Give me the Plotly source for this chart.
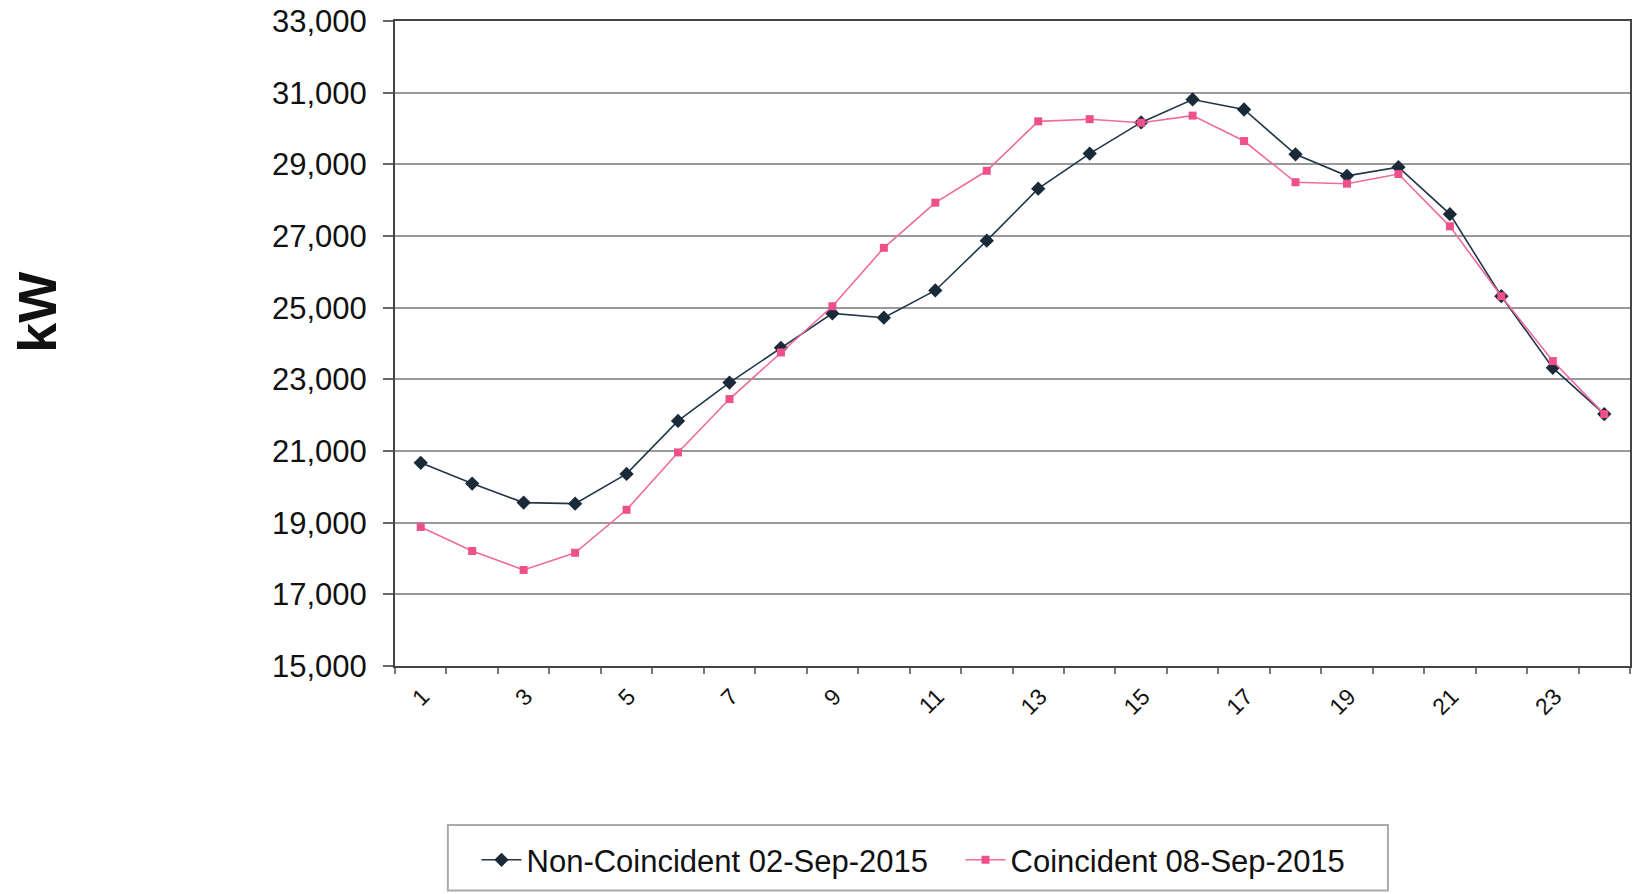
import plotly.graph_objects as go

hours = list(range(1, 25))
non_coincident = [20670, 20090, 19560, 19530, 20360, 21840, 22910, 23880, 24840, 24720,
                  25480, 26870, 28320, 29300, 30170, 30810, 30530, 29280, 28680, 28920,
                  27610, 25320, 23320, 22030]
coincident = [18880, 18210, 17680, 18160, 19360, 20960, 22450, 23750, 25040, 26670,
              27930, 28820, 30200, 30260, 30160, 30360, 29650, 28500, 28460, 28730,
              27270, 25320, 23510, 22030]
x_tick_vals = list(range(1, 25, 2))
x_tick_text = [str(v) for v in x_tick_vals]
y_tick_vals = list(range(15000, 33001, 2000))
y_tick_text = [f"{v:,}" for v in y_tick_vals]

fig = go.Figure()
fig.add_trace(go.Scatter(
    x=hours, y=non_coincident, mode="lines+markers",
    name="Non-Coincident 02-Sep-2015",
    line=dict(color="#22364a", width=1.6),
    marker=dict(symbol="diamond", size=11, color="#1a2a38"),
))
fig.add_trace(go.Scatter(
    x=hours, y=coincident, mode="lines+markers",
    name="Coincident 08-Sep-2015",
    line=dict(color="#f06a9a", width=1.6),
    marker=dict(symbol="square", size=8, color="#f0508a"),
))

fig.update_layout(
    width=1632, height=894,
    margin=dict(l=395, r=0, t=21, b=228),
    paper_bgcolor="white", plot_bgcolor="white",
    font=dict(family="Liberation Sans, Arial, sans-serif", color="#111"),
    showlegend=True,
    legend=dict(
        orientation="h", x=0.066, xanchor="left", y=-0.301, yanchor="middle",
        borderwidth=0, bgcolor="rgba(0,0,0,0)",
        font=dict(size=31, color="#111"),
        itemwidth=40, entrywidth=429, entrywidthmode="pixels",
    ),
    shapes=[dict(
        type="rect", xref="paper", yref="paper",
        x0=0.0428, x1=0.804, y0=-0.348, y1=-0.2465,
        line=dict(color="#aaa", width=2), fillcolor="rgba(0,0,0,0)", layer="below",
    )],
    annotations=[dict(
        text="<b>kW</b>", xref="paper", yref="paper", x=-0.290, y=0.549,
        xanchor="center", yanchor="middle",
        textangle=-90, showarrow=False, font=dict(size=54, color="#111"),
    )],
)
fig.update_xaxes(
    range=[0.5, 24.5], tickvals=x_tick_vals, ticktext=x_tick_text,
    tickangle=-45, ticks="", tickfont=dict(size=23),
    ticklabelshift=2, ticklabelstandoff=6,
    showgrid=False, zeroline=False,
    showline=True, linecolor="#444", linewidth=2, mirror=True,
    minor=dict(ticks="outside", tick0=0.5, dtick=1, ticklen=6, tickcolor="#777", tickwidth=1.5, showgrid=False),
)
fig.update_yaxes(
    range=[15000, 33000], tickvals=y_tick_vals, ticktext=y_tick_text,
    ticks="outside", ticklen=10, tickcolor="#666", tickwidth=1.5,
    ticklabelstandoff=10, ticklabeloverflow="allow",
    tickfont=dict(size=31), showgrid=True, gridcolor="#999", gridwidth=1.6,
    zeroline=False, showline=True, linecolor="#444", linewidth=2, mirror=True,
)

fig.write_html("out.html", config={"displayModeBar": False},
               post_script="document.body.style.margin='0';")
